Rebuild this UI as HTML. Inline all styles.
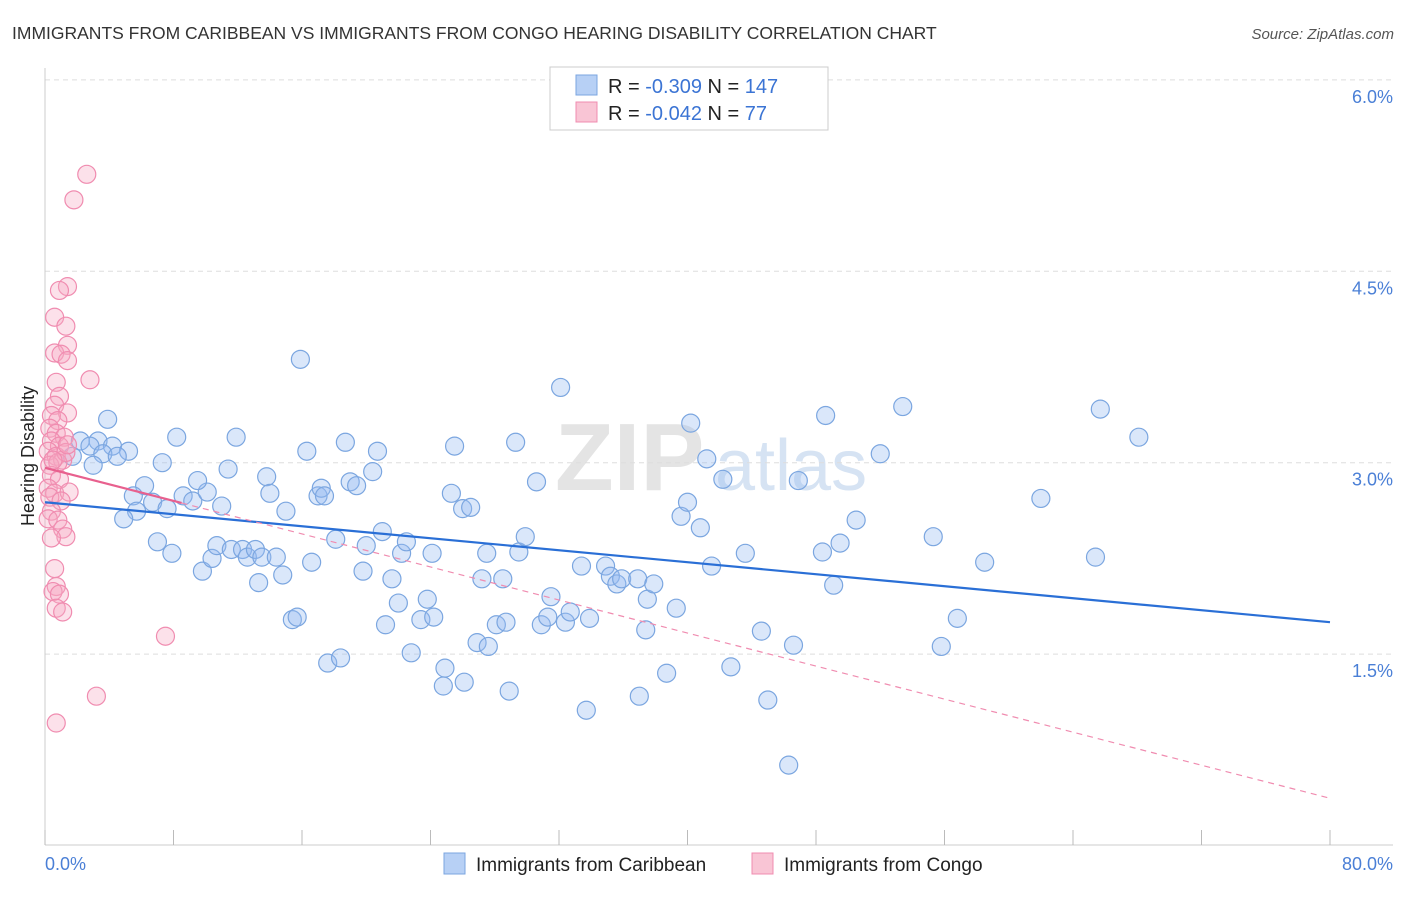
<!DOCTYPE html>
<html><head><meta charset="utf-8"><style>
body{margin:0;background:#fff;font-family:"Liberation Sans",sans-serif;}
svg text{font-family:"Liberation Sans",sans-serif;}
</style></head><body>
<svg id="chart" width="1406" height="892" xmlns="http://www.w3.org/2000/svg">
<text x="12" y="39" font-size="17.5" fill="#333">IMMIGRANTS FROM CARIBBEAN VS IMMIGRANTS FROM CONGO HEARING DISABILITY CORRELATION CHART</text>
<text x="1394" y="39" font-size="15" fill="#555" text-anchor="end" font-style="italic">Source: ZipAtlas.com</text>
<g><text x="555" y="490" font-size="96" fill="#e4e4e4" font-family="Liberation Serif" font-weight="bold">ZIP</text><text x="715" y="490" font-size="72" fill="#d6e3f3">atlas</text></g>
<g id="grid"></g>
<g id="axes"></g>
<g id="marks"></g>
<text transform="translate(34,456) rotate(-90)" font-size="18" fill="#222" text-anchor="middle">Hearing Disability</text>
<g>
<rect x="550" y="67" width="278" height="63" fill="#fff" stroke="#ccc"/>
<rect x="576" y="75" width="21" height="20" fill="#b7d0f5" stroke="#7ba6e0"/>
<rect x="576" y="102" width="21" height="20" fill="#f9c5d5" stroke="#f08cb0"/>
<text x="608" y="93" font-size="20" fill="#222">R = <tspan fill="#3b74d4">-0.309</tspan>   N = <tspan fill="#3b74d4">147</tspan></text>
<text x="608" y="120" font-size="20" fill="#222">R = <tspan fill="#3b74d4">-0.042</tspan>   N =   <tspan fill="#3b74d4">77</tspan></text>
</g>
<g>
<rect x="444" y="853" width="21" height="21" fill="#b7d0f5" stroke="#7ba6e0"/>
<text x="476" y="871" font-size="19" fill="#222">Immigrants from Caribbean</text>
<rect x="752" y="853" width="21" height="21" fill="#f9c5d5" stroke="#f08cb0"/>
<text x="784" y="871" font-size="19" fill="#222">Immigrants from Congo</text>
</g>
</svg>
<script>
const blueX=[3.9,2.2,3.3,4.2,2.8,5.2,3.6,4.5,3.0,1.7,8.2,11.9,7.3,6.2,5.5,6.7,5.7,4.9,7.6,8.6,9.2,10.1,9.5,11.4,11.0,7.0,7.9,9.8,10.4,10.7,11.6,12.3,12.6,13.1,13.5,14.4,14.8,13.3,13.8,14.0,15.0,15.9,16.3,15.4,15.7,16.6,17.0,17.2,17.4,18.7,18.1,19.0,19.4,19.8,20.0,20.4,20.7,21.0,21.6,22.0,22.2,22.5,21.2,17.6,18.4,22.8,23.4,23.8,24.1,24.2,24.9,24.8,26.1,26.9,27.6,25.3,25.5,26.0,26.5,27.2,27.5,28.1,28.5,28.7,28.9,29.3,29.5,29.9,30.6,30.9,31.3,31.5,32.1,32.4,32.7,33.4,33.7,33.9,34.9,35.2,35.6,35.9,36.9,37.0,37.4,37.5,37.9,38.7,39.3,39.6,40.0,40.2,40.8,41.2,41.5,42.2,42.7,43.6,44.6,45.0,46.6,46.3,46.9,48.4,48.6,49.1,49.5,50.5,52.0,53.4,55.3,55.8,56.8,58.5,62.0,65.4,65.7,68.1];
const blueY=[3.34,3.17,3.17,3.13,3.13,3.09,3.07,3.05,2.98,3.05,3.20,3.20,3.00,2.82,2.74,2.69,2.62,2.56,2.64,2.74,2.70,2.77,2.86,2.95,2.66,2.38,2.29,2.15,2.25,2.35,2.32,2.32,2.26,2.32,2.26,2.26,2.12,2.06,2.89,2.76,2.62,3.81,3.09,1.77,1.79,2.22,2.74,2.80,2.74,3.16,2.40,2.85,2.82,2.15,2.35,2.93,3.09,2.46,2.09,1.90,2.29,2.38,1.73,1.43,1.47,1.51,1.77,1.93,2.29,1.79,1.39,1.25,1.28,1.59,1.56,2.76,3.13,2.64,2.65,2.09,2.29,1.73,2.09,1.75,1.21,3.16,2.30,2.42,2.85,1.73,1.79,1.95,3.59,1.75,1.83,2.19,1.06,1.78,2.19,2.11,2.05,2.09,2.09,1.17,1.69,1.93,2.05,1.35,1.86,2.58,2.69,3.31,2.49,3.03,2.19,2.87,1.40,2.29,1.68,1.14,1.57,0.63,2.86,2.30,3.37,2.04,2.37,2.55,3.07,3.44,2.42,1.56,1.78,2.22,2.72,2.26,3.42,3.20];
const pinkX=[2.6,1.8,1.4,0.9,0.6,1.3,1.4,0.6,1.0,1.4,2.8,0.7,0.9,0.6,1.4,0.4,0.8,0.3,0.7,1.2,0.4,0.9,0.2,0.7,1.1,0.3,0.8,1.3,0.4,0.9,0.2,0.6,1.5,0.3,1.0,0.4,0.2,0.8,1.1,1.3,0.4,0.6,0.7,0.5,0.9,0.7,1.1,7.5,3.2,0.7,1.4,0.5];
const pinkY=[5.26,5.06,4.38,4.35,4.14,4.07,3.92,3.86,3.85,3.80,3.65,3.63,3.52,3.45,3.39,3.37,3.33,3.27,3.23,3.20,3.17,3.13,3.09,3.05,3.02,2.98,3.00,3.08,2.90,2.87,2.80,2.76,2.77,2.73,2.70,2.62,2.56,2.55,2.48,2.42,2.41,2.17,2.03,1.99,1.97,1.86,1.83,1.64,1.17,0.96,3.14,3.02];
const blueTrend=[2.69,1.75];
const pinkTrend=[2.96,0.37];
const pinkSolidEnd=8.5;
const yTicks=[1.5,3.0,4.5,6.0];
const yTickLabels=["1.5%","3.0%","4.5%","6.0%"];
const xTicks=[0,8,16,24,32,40,48,56,64,72,80];
const NS="http://www.w3.org/2000/svg";
const X=v=>45+v/80*1285;
const Y=v=>845.5-v*127.6;
function mk(tag,attrs,parent){const e=document.createElementNS(NS,tag);for(const k in attrs)e.setAttribute(k,attrs[k]);parent.appendChild(e);return e;}
const grid=document.getElementById('grid'),axes=document.getElementById('axes'),marks=document.getElementById('marks');
yTicks.forEach((t,i)=>{
 const l=mk('line',{x1:45,x2:1393,y1:Y(t),y2:Y(t),stroke:'#ddd','stroke-dasharray':'5,4'},grid);
 
 
 const tx=mk('text',{x:1393,y:Y(t)+23,'font-size':18,fill:'#4a7fd6','text-anchor':'end'},grid);
 tx.textContent=yTickLabels[i];
 
 
});
const ya=mk('line',{x1:45,x2:45,y1:68,y2:845,stroke:'#ccc'},axes);


const xa=mk('line',{x1:45,x2:1393,y1:845,y2:845,stroke:'#ccc'},axes);


xTicks.forEach(t=>{
 const l=mk('line',{x1:X(t),x2:X(t),y1:830,y2:845,stroke:'#bbb'},axes);
 
 
});
const x0=mk('text',{x:45,y:870,'font-size':18,fill:'#4a7fd6'},axes);x0.textContent='0.0%';


const x1=mk('text',{x:1393,y:870,'font-size':18,fill:'#4a7fd6','text-anchor':'end'},axes);x1.textContent='80.0%';


blueX.forEach((v,i)=>{
 const c=mk('circle',{cx:X(v),cy:Y(blueY[i]),r:9,fill:'rgba(150,185,240,0.35)',stroke:'#7ba6e0','stroke-width':1.2},marks);
 
 
});
pinkX.forEach((v,i)=>{
 const c=mk('circle',{cx:X(v),cy:Y(pinkY[i]),r:9,fill:'rgba(245,170,195,0.35)',stroke:'#f08cb0','stroke-width':1.2},marks);
 
 
});
const bt=mk('line',{x1:X(0),y1:Y(blueTrend[0]),x2:X(80),y2:Y(blueTrend[1]),stroke:'#2a6fd6','stroke-width':2.2},marks);


const pe=pinkTrend[0]+(pinkTrend[1]-pinkTrend[0])*pinkSolidEnd/80;
const pd=mk('line',{x1:X(pinkSolidEnd),y1:Y(pe),x2:X(80),y2:Y(pinkTrend[1]),stroke:'#f08cb0','stroke-width':1.2,'stroke-dasharray':'6,5'},marks);


const ps=mk('line',{x1:X(0),y1:Y(pinkTrend[0]),x2:X(pinkSolidEnd),y2:Y(pe),stroke:'#e8608e','stroke-width':2.2},marks);


</script>
</body></html>
